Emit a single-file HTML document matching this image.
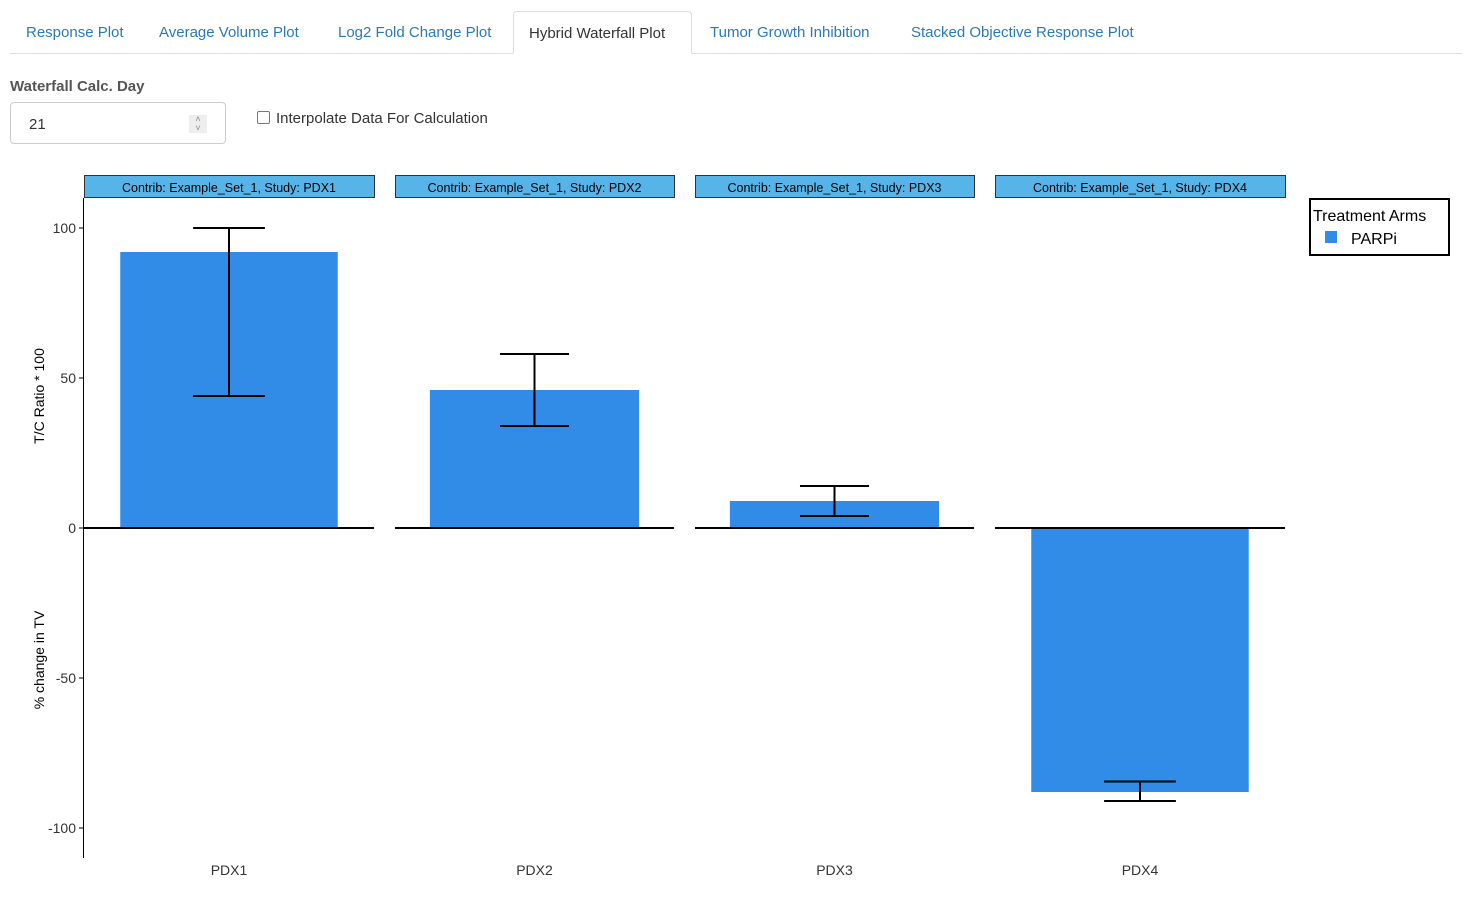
<!DOCTYPE html>
<html><head><meta charset="utf-8"><style>
body{margin:0;width:1472px;height:919px;background:#fff;font-family:"Liberation Sans",sans-serif;position:relative;overflow:hidden}
.tabs{position:absolute;left:10px;top:10px;width:1452px;height:43px;border-bottom:1px solid #ddd}
.tab{position:absolute;top:14px;font-size:15px;color:#2a7ab8}
.tab.active{top:1px;height:43px;border:1px solid #ddd;border-bottom:1px solid #fff;border-radius:4px 4px 0 0;background:#fff;color:#333;padding:0 15px;line-height:43px;box-sizing:border-box}
.lbl{position:absolute;left:10px;top:78px;font-size:15px;font-weight:bold;color:#555}
.inp{position:absolute;left:10px;top:102px;width:216px;height:42px;border:1px solid #ccc;border-radius:4px;box-sizing:border-box;font-size:15px;color:#333;padding:13px 18px}
.spin{position:absolute;right:18px;top:12px;width:18px;height:18px;background:#eee;font-size:9px;line-height:9px;text-align:center;color:#888}
.chk{position:absolute;left:257px;top:110px;font-size:15px;color:#333}
.chk span{display:inline-block;width:11px;height:11px;border:1px solid #777;border-radius:2px;vertical-align:-1px;margin-right:6px}
</style></head><body>
<div class="tabs">
<div class="tab" style="left:16px">Response Plot</div>
<div class="tab" style="left:149px">Average Volume Plot</div>
<div class="tab" style="left:328px">Log2 Fold Change Plot</div>
<div class="tab active" style="left:503px;width:179px">Hybrid Waterfall Plot</div>
<div class="tab" style="left:700px">Tumor Growth Inhibition</div>
<div class="tab" style="left:901px">Stacked Objective Response Plot</div>
</div>
<div class="lbl">Waterfall Calc. Day</div>
<div class="inp">21<div class="spin">˄<br>˅</div></div>
<div class="chk"><span></span>Interpolate Data For Calculation</div>
<svg id="chart" width="1472" height="919" style="position:absolute;left:0;top:0"></svg>
<script>
const categories=["PDX1","PDX2","PDX3","PDX4"];
const values=[92,46,9,-88];
const errLow=[44,34,4,-91];
const errHigh=[100,58,14,-84.5];
const yTicks=[100,50,0,-50,-100];
const NS="http://www.w3.org/2000/svg";
const svg=document.getElementById("chart");
const panels=[[84,374],[395,674],[695,974],[995,1285]];
function y(v){return 528-v*3;}
function mk(t,a,txt){const e=document.createElementNS(NS,t);for(const k in a)e.setAttribute(k,a[k]);if(txt!=null)e.textContent=txt;svg.appendChild(e);return e;}
let ax=mk("line",{x1:83.5,x2:83.5,y1:198,y2:858,stroke:"#000"});


yTicks.forEach(t=>{
 let l=mk("line",{x1:79,x2:84,y1:y(t),y2:y(t),stroke:"#000"});
 
 
 let tx=mk("text",{x:76,y:y(t)+5,"text-anchor":"end","font-size":14,fill:"#333"},t);
 
 
});
let t1=mk("text",{transform:"translate(44,396) rotate(-90)","text-anchor":"middle","font-size":14,fill:"#000"},"T/C Ratio * 100");


let t2=mk("text",{transform:"translate(44,660) rotate(-90)","text-anchor":"middle","font-size":14,fill:"#000"},"% change in TV");


categories.forEach((c,i)=>{
 const [x0,x1]=panels[i];const w=x1-x0;const cx=(x0+x1)/2;
 let s=mk("rect",{x:x0+0.5,y:175.5,width:w,height:22,fill:"#56b4e9",stroke:"#333"});
 
 
 let st=mk("text",{x:cx,y:192,"text-anchor":"middle","font-size":12.5,fill:"#000"},"Contrib: Example_Set_1, Study: "+c);
 
 
 const bw=w*0.75;const v=values[i];
 let b=mk("rect",{x:cx-bw/2,y:Math.min(y(v),y(0)),width:bw,height:Math.abs(y(v)-y(0)),fill:"#318ce7"});
 
 
 let z=mk("line",{x1:x0,x2:x1,y1:528,y2:528,stroke:"#000","stroke-width":2});
 
 
 const ew=bw*0.33;
 [[cx,cx,y(errLow[i]),y(errHigh[i])],[cx-ew/2,cx+ew/2,y(errLow[i]),y(errLow[i])],[cx-ew/2,cx+ew/2,y(errHigh[i]),y(errHigh[i])]].forEach(p=>{
  let e=mk("line",{x1:p[0],x2:p[1],y1:p[2],y2:p[3],stroke:"#000","stroke-width":2});
  
  
 });
 let xl=mk("text",{x:cx,y:875,"text-anchor":"middle","font-size":14,fill:"#333"},c);
 
 
});
let lg=mk("rect",{x:1310,y:199,width:139,height:56,fill:"#fff",stroke:"#000","stroke-width":2});


let lt=mk("text",{x:1313,y:221,"font-size":16,fill:"#000"},"Treatment Arms");


let lk=mk("rect",{x:1325,y:231,width:12,height:12,fill:"#318ce7"});


let le=mk("text",{x:1351,y:244,"font-size":16,fill:"#000"},"PARPi");


</script>
</body></html>
